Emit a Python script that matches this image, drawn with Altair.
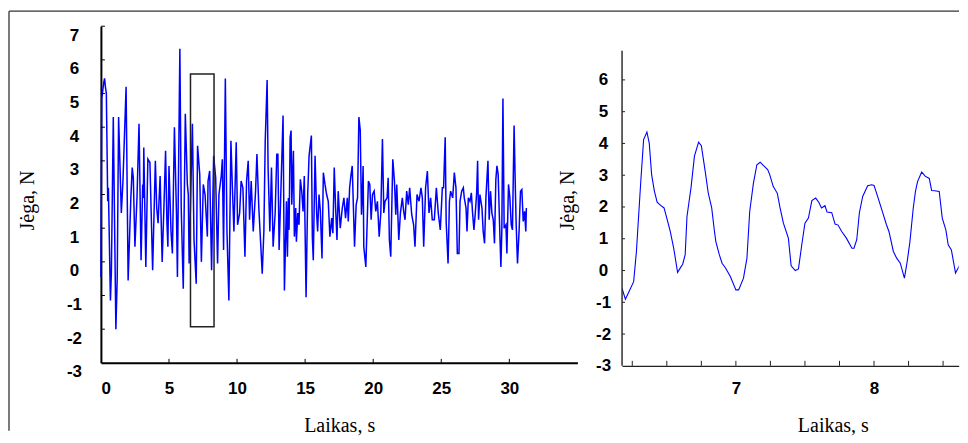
import altair as alt
import pandas as pd

# ---------------- data ----------------
full_t = [0.0, 0.06, 0.2, 0.27, 0.33, 0.4, 0.5, 0.55, 0.7, 0.77, 0.91, 1.1, 1.2, 1.3, 1.5, 1.62, 1.85, 2.0,
          2.2, 2.3, 2.38, 2.5, 2.65, 2.8, 2.95, 3.07, 3.12, 3.15, 3.3, 3.45, 3.6, 3.8, 4.0, 4.1, 4.2, 4.35,
          4.5, 4.65, 4.75, 4.85, 4.92, 5.0, 5.15, 5.25, 5.4, 5.55, 5.62, 5.8, 5.9, 6.05, 6.2, 6.35,
          6.42, 6.48, 6.72, 6.84, 7.0, 7.1, 7.26, 7.38, 7.52, 7.65, 7.82, 7.87, 7.99, 8.13, 8.28, 8.43,
          8.57, 8.67, 8.84, 8.92, 9.01, 9.14, 9.26, 9.4, 9.55, 9.65, 9.77, 9.94, 10.04, 10.19, 10.3, 10.43,
          10.58, 10.7, 10.82, 10.92, 11.04, 11.19, 11.36, 11.46, 11.6, 11.85, 11.97, 12.07, 12.21, 12.28,
          12.41, 12.53, 12.65, 12.8, 12.92, 13.0, 13.09, 13.26, 13.38, 13.48, 13.63, 13.7, 13.77, 13.82,
          13.9, 13.97, 14.02, 14.14, 14.21, 14.31, 14.36, 14.46, 14.55, 14.65, 14.75, 14.85, 14.94, 15.07,
          15.19, 15.29, 15.46, 15.53, 15.6, 15.73, 15.85, 15.92, 16.02, 16.12, 16.24, 16.34, 16.46, 16.58,
          16.7, 16.82, 16.95, 17.04, 17.14, 17.24, 17.34, 17.43, 17.58, 17.73, 17.85, 17.97, 18.1, 18.17,
          18.27, 18.36, 18.46, 18.63, 18.75, 18.85, 18.95, 19.05, 19.14, 19.2, 19.26, 19.31, 19.46, 19.56,
          19.65, 19.75, 19.85, 19.95, 20.07, 20.19, 20.31, 20.44, 20.56, 20.68, 20.78, 20.87, 21.02, 21.1,
          21.19, 21.29, 21.44, 21.56, 21.66, 21.73, 21.88, 22.0, 22.14, 22.24, 22.34, 22.46, 22.58, 22.68,
          22.83, 22.97, 23.07, 23.22, 23.37, 23.51, 23.61, 23.71, 23.85, 23.98, 24.1, 24.22, 24.34, 24.49,
          24.64, 24.78, 24.93, 25.08, 25.17, 25.29, 25.36, 25.5, 25.6, 25.69, 25.84, 25.96, 26.08, 26.18,
          26.3, 26.38, 26.5, 26.62, 26.69, 26.82, 26.89, 26.99, 27.11, 27.21, 27.3, 27.4, 27.5, 27.6,
          27.67, 27.74, 27.84, 27.99, 28.08, 28.18, 28.28, 28.38, 28.43, 28.52, 28.62, 28.72, 28.82, 28.91,
          29.01, 29.09, 29.18, 29.31, 29.38, 29.45, 29.53, 29.62, 29.75, 29.82, 29.94, 30.04, 30.14, 30.23,
          30.35, 30.43, 30.5, 30.6, 30.72, 30.82, 30.92, 31.02, 31.12, 31.21, 31.25]
full_v = [-0.45, 4.85, 5.3, 5.45, 5.2, 5.0, 1.8, 2.2, -1.15, -0.3, 4.3, -2.0, -0.45, 4.3, 1.45, 2.4, 5.2, -0.55,
          1.9, 2.8, 2.5, 0.45, 1.9, 4.1, 0.05, 2.3, 1.9, 3.4, -0.15, 3.05, 2.95, -0.25, 3.0, 1.6, 1.15, 2.55,
          0.0, 1.9, 3.3, 1.15, 0.45, 2.85, 0.9, 0.25, 4.0, 1.45, -0.45, 6.33, 1.6, -0.8, 4.4, 2.3,
          2.0, -0.05, 4.1, 0.65, -0.65, 3.45, 2.6, 0.0, 2.3, 2.0, 0.75, 2.4, 2.7, -0.25, 3.15, 2.5,
          -0.05, 2.0, 2.55, 3.05, 0.35, 5.45, 0.9, -1.15, 3.6, 2.3, 0.9, 3.55, 1.1, 1.45, 2.4, 2.2,
          0.15, 2.4, 3.0, 1.25, 2.4, 0.9, 2.1, 3.2, 1.6, -0.35, 0.9, 3.6, 5.4, 2.8,
          0.9, 2.8, 0.45, 1.45, 3.2, 3.2, 0.35, 2.65, 4.35, -0.85, 1.8, 0.15, 1.9, 0.95,
          3.7, 3.9, 1.7, 3.3, 0.75, 1.6, 0.6, 1.45, 1.1, 2.45, 2.1, 1.5, 2.55, -1.05,
          2.0, 3.15, 3.75, 0.75, 0.05, 3.15, 1.4, 0.9, 2.0, 1.5, 0.1, 2.65, 2.3, 2.0,
          1.8, 0.75, 1.3, 0.85, 2.8, 1.6, 0.65, 2.1, 1.0, 1.6, 1.9, 1.3, 1.9, 1.2,
          2.2, 2.55, 2.85, 0.45, 1.7, 1.9, 4.3, 3.9, 1.4, 2.0, 2.85, 0.45, -0.15, 1.2,
          2.4, 2.3, 1.25, 2.0, 2.1, 1.5, 1.8, 0.75, 1.45, 3.65, 1.45, 1.8, 1.9, 2.5,
          0.65, 0.15, 3.05, 2.4, 1.4, 2.3, 0.65, 1.45, 1.9, 1.5, 1.25, 2.1, 1.7, 2.2,
          1.4, 1.1, 0.45, 2.0, 1.8, 2.2, 1.9, 0.45, 2.2, 2.7, 1.45, 1.9, 1.25, 1.25,
          2.2, 1.45, 0.95, 2.2, 2.2, 3.7, 1.2, -0.05, 1.8, 2.1, 1.9, 2.65, 2.2, 0.25,
          0.25, 1.8, 2.1, 2.2, 1.9, 1.6, 0.9, 1.9, 1.8, 2.05, 1.45, 0.95, 1.45, 2.05,
          3.0, 1.25, 2.0, 1.6, 0.9, 0.55, 1.9, 2.65, 3.0, 1.25, 2.1, 1.45, 1.25, 0.55,
          2.45, 2.85, 2.6, 0.75, -0.15, 0.95, 4.85, 1.0, 1.1, 0.25, 2.3, 1.9, 1.1, 0.95,
          4.05, 2.4, 1.15, -0.05, 0.95, 2.1, 2.15, 1.2, 1.5, 0.9, 1.6]

zoom_t = [6.176, 6.2, 6.22, 6.26, 6.28, 6.31, 6.332, 6.356, 6.373, 6.39, 6.41, 6.43, 6.455, 6.48, 6.5,
          6.525, 6.55, 6.578, 6.6, 6.615, 6.633, 6.646, 6.675, 6.7, 6.73, 6.75, 6.778, 6.8, 6.825, 6.845,
          6.855, 6.88, 6.9, 6.925, 6.96, 7.0, 7.02, 7.055, 7.08, 7.1, 7.127, 7.152, 7.176, 7.2, 7.23,
          7.245, 7.27, 7.3, 7.32, 7.344, 7.38, 7.4, 7.43, 7.453, 7.477, 7.5, 7.525, 7.55, 7.578, 7.6,
          7.62, 7.645, 7.66, 7.694, 7.718, 7.74, 7.766, 7.8, 7.84, 7.855, 7.875, 7.894, 7.918, 7.954,
          7.983, 8.0, 8.03, 8.06, 8.09, 8.108, 8.14, 8.164, 8.19, 8.22, 8.24, 8.26, 8.284, 8.3, 8.315,
          8.345, 8.37, 8.4, 8.417, 8.44, 8.472, 8.494, 8.52, 8.537, 8.56, 8.59, 8.614, 8.64, 8.665, 8.68]
zoom_v = [-0.56, -0.9, -0.72, -0.35, 0.6, 2.7, 4.12, 4.36, 4.0, 3.02, 2.5, 2.15, 2.05, 1.97, 1.65,
          1.23, 0.7, -0.06, 0.1, 0.2, 0.5, 1.7, 2.6, 3.6, 4.04, 3.93, 3.12, 2.44, 1.97, 1.23,
          0.91, 0.5, 0.23, 0.08, -0.19, -0.61, -0.61, -0.24, 0.39, 1.86, 2.75, 3.33, 3.41, 3.3, 3.18,
          3.02, 2.65, 2.43, 1.97, 1.49, 1.02, 0.15, 0.0, 0.05, 0.81, 1.49, 1.65, 2.2, 2.28, 2.15,
          1.97, 2.04, 1.84, 1.82, 1.46, 1.43, 1.23, 1.02, 0.7, 0.7, 0.97, 1.82, 2.33, 2.67,
          2.7, 2.68, 2.28, 1.86, 1.44, 1.23, 0.6, 0.39, 0.23, -0.24, 0.28, 0.91, 1.97, 2.49, 2.8,
          3.1, 2.97, 2.9, 2.52, 2.51, 2.49, 1.65, 1.28, 0.81, 0.65, -0.08, 0.12, 0.39, 0.91, 1.15]

box_t = [6.58, 8.31]
box_v = [-1.93, 5.58]

left_x_labels = [0, 5, 10, 15, 20, 25, 30]
left_x_ticks = [5, 10, 15, 20, 25, 30]
left_y_labels = [-3, -2, -1, 0, 1, 2, 3, 4, 5, 6, 7]
left_y_ticks = [-2, -1, 0, 1, 2, 3, 4, 5, 6, 7]
right_x_labels = [7, 8]
right_x_ticks = [6.25, 6.5, 6.75, 7.0, 7.25, 7.5, 7.75, 8.0, 8.25, 8.5]
right_y_labels = [-3, -2, -1, 0, 1, 2, 3, 4, 5, 6]
right_y_ticks = [-2, -1, 0, 1, 2, 3, 4, 5, 6]
right_axis_span = [-3, 6.92]

# ---------------- styling ----------------
BLUE = "#0000ff"
LABEL_FONT = "Liberation Sans"
TITLE_FONT = "Liberation Serif"
W1, H1 = 477, 337
W2, H2 = 337, 340

df_full = pd.DataFrame({"t": full_t, "v": full_v})
df_zoom = pd.DataFrame({"t": zoom_t, "v": zoom_v})
df_box = pd.DataFrame({"t0": [box_t[0]], "t1": [box_t[1]], "v0": [box_v[0]], "v1": [box_v[1]]})

xs1 = alt.Scale(domain=[0, 35], nice=False, zero=False)
ys1 = alt.Scale(domain=[-3, 7], nice=False, zero=False)
xs2 = alt.Scale(domain=[6.176, 8.613], nice=False, zero=False)
ys2 = alt.Scale(domain=[-3, 7.69], nice=False, zero=False)

lab = dict(labelFont=LABEL_FONT, labelFontWeight="bold", labelFontSize=17, labelColor="black",
           titleFont=TITLE_FONT, titleFontWeight="normal", titleFontSize=20, titleColor="black",
           grid=False, ticks=False, labelOverlap=False, tickCount=40, labelExpr="datum.value + ''")

# ---------- left panel ----------
line1 = alt.Chart(df_full).mark_line(color=BLUE, strokeWidth=1.5).encode(
    x=alt.X("t:Q", scale=xs1, axis=alt.Axis(values=left_x_labels, title="Laikas, s", domainColor="black",
                                              domainWidth=2, labelPadding=18, titleY=69,
                                              titleBaseline="alphabetic", **lab)),
    y=alt.Y("v:Q", scale=ys1, axis=alt.Axis(values=left_y_labels, title="Jėga, N", domainColor="black",
                                              domainWidth=2, labelPadding=27, labelAlign="center",
                                              labelFlush=False, labelOffset=9, labelBaseline="middle",
                                              titleX=-73, titleY=174, titleAlign="center",
                                              titleBaseline="middle", titleAngle=270, **lab)),
)
rect1 = alt.Chart(df_box).mark_rect(fillOpacity=0, stroke="#222222", strokeWidth=1.5).encode(
    x=alt.X("t0:Q", scale=xs1), x2="t1:Q",
    y=alt.Y("v0:Q", scale=ys1), y2="v1:Q")
ytick1 = alt.Chart(pd.DataFrame({"v": left_y_ticks})).mark_rule(color="black", strokeWidth=1).encode(
    y=alt.Y("v:Q", scale=ys1), x=alt.value(0), x2=alt.value(4))
xtick1 = alt.Chart(pd.DataFrame({"t": left_x_ticks})).mark_rule(color="black", strokeWidth=1).encode(
    x=alt.X("t:Q", scale=xs1), y=alt.value(H1), y2=alt.value(H1 - 4))
frame_top = alt.Chart(pd.DataFrame({"a": [0]})).mark_rule(color="#333333", strokeWidth=1.3).encode(
    x=alt.value(-92), x2=alt.value(859), y=alt.value(-15))
frame_left = alt.Chart(pd.DataFrame({"a": [0]})).mark_rule(color="#333333", strokeWidth=1.3).encode(
    x=alt.value(-92), y=alt.value(-15), y2=alt.value(405))

left = alt.layer(line1, rect1, ytick1, xtick1, frame_top, frame_left).properties(width=W1, height=H1)

# ---------- right panel ----------
line2 = alt.Chart(df_zoom).mark_line(color=BLUE, strokeWidth=1.1, clip=True).encode(
    x=alt.X("t:Q", scale=xs2, axis=alt.Axis(values=right_x_labels, title="Laikas, s", domainColor="#222222",
                                              domainWidth=1.4, labelPadding=15, titleX=211, titleY=66,
                                              titleBaseline="alphabetic", labelFlush=False, **lab)),
    y=alt.Y("v:Q", scale=ys2, axis=alt.Axis(values=right_y_labels, title="Jėga, N", domain=False,
                                              labelPadding=19, labelAlign="center", labelFlush=False,
                                              labelBaseline="middle",
                                              titleX=-55, titleY=174, titleAlign="center",
                                              titleBaseline="middle", titleAngle=270, **lab)),
)
yaxis2 = alt.Chart(pd.DataFrame({"v0": [right_axis_span[0]], "v1": [right_axis_span[1]]})).mark_rule(
    color="#222222", strokeWidth=1.4).encode(
    x=alt.value(0), y=alt.Y("v0:Q", scale=ys2), y2="v1:Q")
ytick2 = alt.Chart(pd.DataFrame({"v": right_y_ticks})).mark_rule(color="#222222", strokeWidth=1).encode(
    y=alt.Y("v:Q", scale=ys2), x=alt.value(0), x2=alt.value(3))
xtick2 = alt.Chart(pd.DataFrame({"t": right_x_ticks})).mark_rule(color="#222222", strokeWidth=1).encode(
    x=alt.X("t:Q", scale=xs2), y=alt.value(H2), y2=alt.value(H2 - 5))

right = alt.layer(line2, yaxis2, ytick2, xtick2).properties(width=W2, height=H2)

chart = alt.hconcat(left, right, spacing=44.7, bounds="flush").properties(
    padding={"left": 0, "top": 2, "right": 0, "bottom": 0}
).configure_view(stroke=None).configure_axis(labelOverlap=False)

chart.save("out.html", embed_options={"renderer": "svg", "actions": False})
